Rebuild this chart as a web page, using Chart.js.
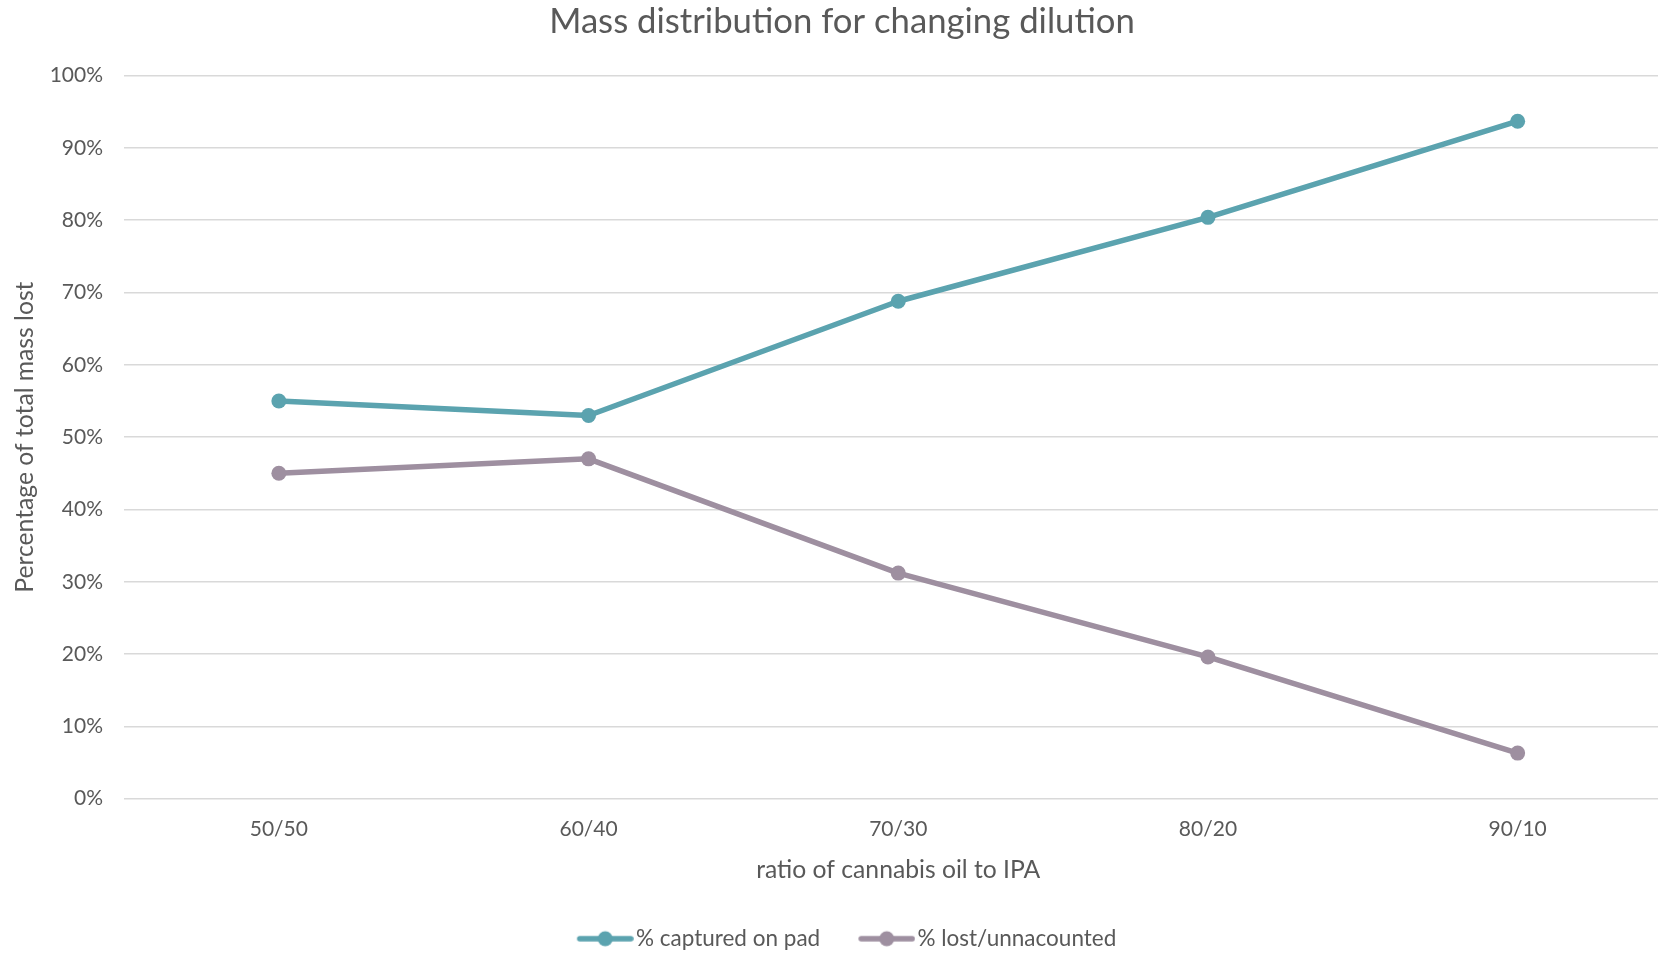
<!DOCTYPE html>
<html>
<head>
<meta charset="utf-8">
<script src="https://cdn.jsdelivr.net/npm/chart.js@4/dist/chart.umd.min.js"></script>
<style>
  html, body { margin: 0; padding: 0; background: #ffffff; overflow: hidden; }
  #wrap { width: 1680px; height: 956px; position: relative; }
</style>
</head>
<body>
<div id="wrap"><canvas id="chart"></canvas></div>
<script>
// Dilution ratios (cannabis oil : IPA)
const ratios = ['50/50', '60/40', '70/30', '80/20', '90/10'];
// Share of total mass, in percent
const capturedOnPad = [55.0, 53.0, 68.8, 80.4, 93.7];
const lostUnaccounted = [45.0, 47.0, 31.2, 19.6, 6.3];
const seriesNames = ['% captured on pad', '% lost/unnacounted'];
const seriesColors = ['#5ba3af', '#9e8fa0'];

const TEXT = '#595959';
const FONT = 'Lato, "Open Sans", sans-serif';

// Legend swatch: a short line with a round marker in its middle.
// The image is padded on the left so the drawn line sits right next to the text.
const SWATCH_W = 57, SWATCH_SHIFT = 9;
function makeSwatch(color) {
  const c = document.createElement('canvas');
  c.width = SWATCH_W + 2 * SWATCH_SHIFT;
  c.height = 18;
  const g = c.getContext('2d');
  const x0 = 2 * SWATCH_SHIFT, x1 = c.width;
  g.strokeStyle = color;
  g.lineWidth = 5.5;
  g.lineCap = 'round';
  g.beginPath();
  g.moveTo(x0 + 3, 9);
  g.lineTo(x1 - 3, 9);
  g.stroke();
  g.fillStyle = color;
  g.beginPath();
  g.arc((x0 + x1) / 2, 9, 7.5, 0, Math.PI * 2);
  g.fill();
  return c;
}
const swatches = seriesColors.map(makeSwatch);

function lineDataset(label, data, color) {
  return {
    label,
    data,
    borderColor: color,
    backgroundColor: color,
    borderWidth: 5.5,
    pointRadius: 7.5,
    pointHoverRadius: 7.5,
    pointBorderWidth: 0,
    pointBackgroundColor: color,
    tension: 0,
    borderCapStyle: 'round',
    borderJoinStyle: 'round'
  };
}

new Chart(document.getElementById('chart'), {
  type: 'line',
  data: {
    labels: ratios,
    datasets: [
      lineDataset(seriesNames[0], capturedOnPad, seriesColors[0]),
      lineDataset(seriesNames[1], lostUnaccounted, seriesColors[1])
    ]
  },
  options: {
    responsive: true,
    maintainAspectRatio: false,
    animation: false,
    events: [],
    layout: { padding: { left: 10, right: 6, top: 0, bottom: -4 } },
    plugins: {
      title: {
        display: true,
        text: 'Mass distribution for changing dilution',
        color: TEXT,
        font: { family: FONT, size: 34.7, weight: 'normal' },
        padding: { top: 1, bottom: 33 }
      },
      legend: {
        display: true,
        position: 'bottom',
        labels: {
          color: TEXT,
          font: { family: FONT, size: 22.5 },
          usePointStyle: true,
          pointStyleWidth: SWATCH_W,
          padding: 29,
          generateLabels(chart) {
            return chart.data.datasets.map((ds, i) => ({
              text: ds.label,
              fillStyle: ds.borderColor,
              strokeStyle: ds.borderColor,
              fontColor: TEXT,
              lineWidth: 0,
              pointStyle: swatches[i],
              hidden: false,
              datasetIndex: i
            }));
          }
        }
      },
      tooltip: { enabled: false }
    },
    scales: {
      x: {
        offset: true,
        grid: { display: false },
        border: { display: false },
        ticks: { color: TEXT, font: { family: FONT, size: 21 }, padding: 9.5 },
        title: {
          display: true,
          text: 'ratio of cannabis oil to IPA',
          color: TEXT,
          font: { family: FONT, size: 24.7 },
          padding: { top: 4, bottom: 14 }
        }
      },
      y: {
        min: 0,
        max: 100,
        grid: { color: '#d9d9d9', lineWidth: 1.5, drawTicks: false },
        border: { display: false },
        ticks: {
          stepSize: 10,
          color: TEXT,
          font: { family: FONT, size: 21 },
          padding: 21,
          callback: v => v + '%'
        },
        title: {
          display: true,
          text: 'Percentage of total mass lost',
          color: TEXT,
          font: { family: FONT, size: 24.7 },
          padding: { top: 0, bottom: -11 }
        }
      }
    }
  }
});
</script>
</body>
</html>
